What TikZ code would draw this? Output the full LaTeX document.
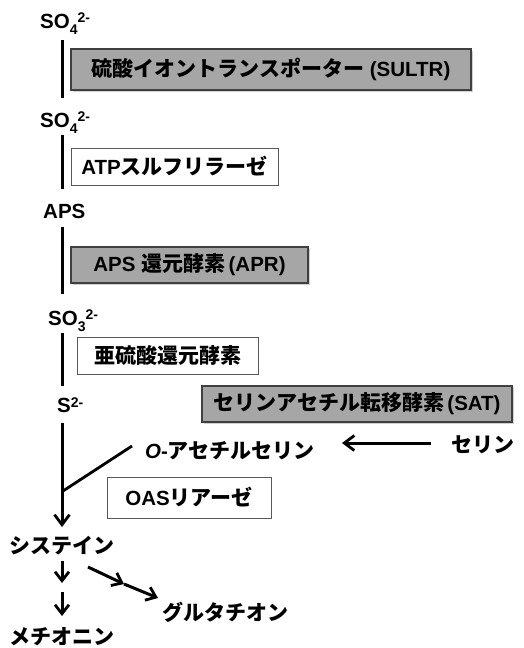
\documentclass[tikz,border=0pt]{standalone}
\usepackage{fontspec}
\setmainfont{Liberation Sans}
\newfontfamily\jp{Noto Sans CJK JP}
\usetikzlibrary{arrows.meta,shadows}
\newcommand{\supsc}[1]{\raisebox{6pt}{\fontsize{14}{14}\selectfont #1}}
\newcommand{\subsc}[1]{\raisebox{-6pt}{\fontsize{14}{14}\selectfont #1}}
\newcommand{\jt}[1]{{\jp\fontsize{21}{24}\selectfont #1}}
\begin{document}
\begin{tikzpicture}[x=1pt,y=-1pt,
  font=\fontsize{20.5}{24}\selectfont\bfseries,
  lbl/.style={inner sep=0pt, anchor=base west},
  jlbl/.style={inner sep=0pt, anchor=west, font=\fontsize{21}{24}\selectfont\bfseries\jp},
  graybox/.style={draw=black!75, line width=1.2pt, fill=black!35, inner sep=0pt,
     drop shadow={shadow xshift=1.5pt, shadow yshift=-1.5pt, fill=black!30, opacity=0.6}},
  whitebox/.style={draw=black!65, line width=1pt, fill=white, inner sep=0pt},
  stem/.style={line width=3pt},
  arr/.style={line width=3pt, -{Straight Barb[length=10pt, width=15pt, line width=2.8pt]}},
  sarr/.style={line width=3pt, -{Straight Barb[length=9pt, width=14pt, line width=2.8pt]}}]
\useasboundingbox (0,0) rectangle (524,648);
\fill[white] (0,0) rectangle (524,648);

% species
\node[lbl] (so4a) at (40,28) {SO\subsc{4}\supsc{2-}};
\node[lbl] (so4b) at (40,127) {SO\subsc{4}\supsc{2-}};
\node[lbl] (aps) at (43,218) {APS};
\node[lbl] (so3) at (48,325) {SO\subsc{3}\supsc{2-}};
\node[lbl] (s2) at (57,412) {S\raisebox{5pt}{\fontsize{14}{14}\selectfont 2-}};
\node[inner sep=0pt, anchor=west] (oas) at (145,451) {\textit{O}-\jt{アセチルセリン}};
\node[jlbl] (ser) at (451,445) {セリン};
\node[jlbl] (cys) at (9,546) {システイン};
\node[jlbl] (met) at (9,637) {メチオニン};
\node[jlbl] (glu) at (162,612) {グルタチオン};

% enzyme boxes
\node[graybox, minimum width=400pt, minimum height=41pt] (sultr) at (271,69.5)
  {\jt{硫酸イオントランスポーター} (SULTR)};
\node[whitebox, minimum width=207pt, minimum height=37pt] (atps) at (174.5,166.5)
  {ATP\jt{スルフリラーゼ}};
\node[graybox, minimum width=237pt, minimum height=36pt] (apr) at (189.5,265)
  {APS \jt{還元酵素}\,(APR)};
\node[whitebox, minimum width=181pt, minimum height=37pt] (sir) at (167.5,355.5)
  {\jt{亜硫酸還元酵素}};
\node[graybox, minimum width=310pt, minimum height=36pt] (sat) at (357,404)
  {\jt{セリンアセチル転移酵素}\,(SAT)};
\node[whitebox, minimum width=164pt, minimum height=41pt] (oasl) at (189,497.5)
  {OAS\jt{リアーゼ}};

% connector end points
\coordinate (l1a) at (62,40);  \coordinate (l1b) at (62,98);
\coordinate (l2a) at (62,135); \coordinate (l2b) at (62,189);
\coordinate (l3a) at (62,227); \coordinate (l3b) at (62,294);
\coordinate (l4a) at (62,333); \coordinate (l4b) at (62,386);
\coordinate (l5a) at (62,423); \coordinate (l5b) at (62,527);
\coordinate (dj) at (63,491);  \coordinate (dt) at (132,446);
\coordinate (sa) at (431,443); \coordinate (sb) at (342,443);
\coordinate (c1a) at (62,561); \coordinate (c1b) at (62,583);
\coordinate (c2a) at (62,592); \coordinate (c2b) at (62,616);
\coordinate (g1) at (88,567);  \coordinate (g2) at (124,584); \coordinate (g3) at (158,598);

\draw[stem] (l1a) -- (l1b);
\draw[stem] (l2a) -- (l2b);
\draw[stem] (l3a) -- (l3b);
\draw[stem] (l4a) -- (l4b);
\draw[arr] (l5a) -- (l5b);
\draw[stem, line width=2.8pt] (dj) -- (dt);
\draw[arr] (sa) -- (sb);
\draw[sarr] (c1a) -- (c1b);
\draw[sarr] (c2a) -- (c2b);
\draw[sarr] (g1) -- (g2);
\draw[sarr] (g2) -- (g3);
\end{tikzpicture}
\end{document}
